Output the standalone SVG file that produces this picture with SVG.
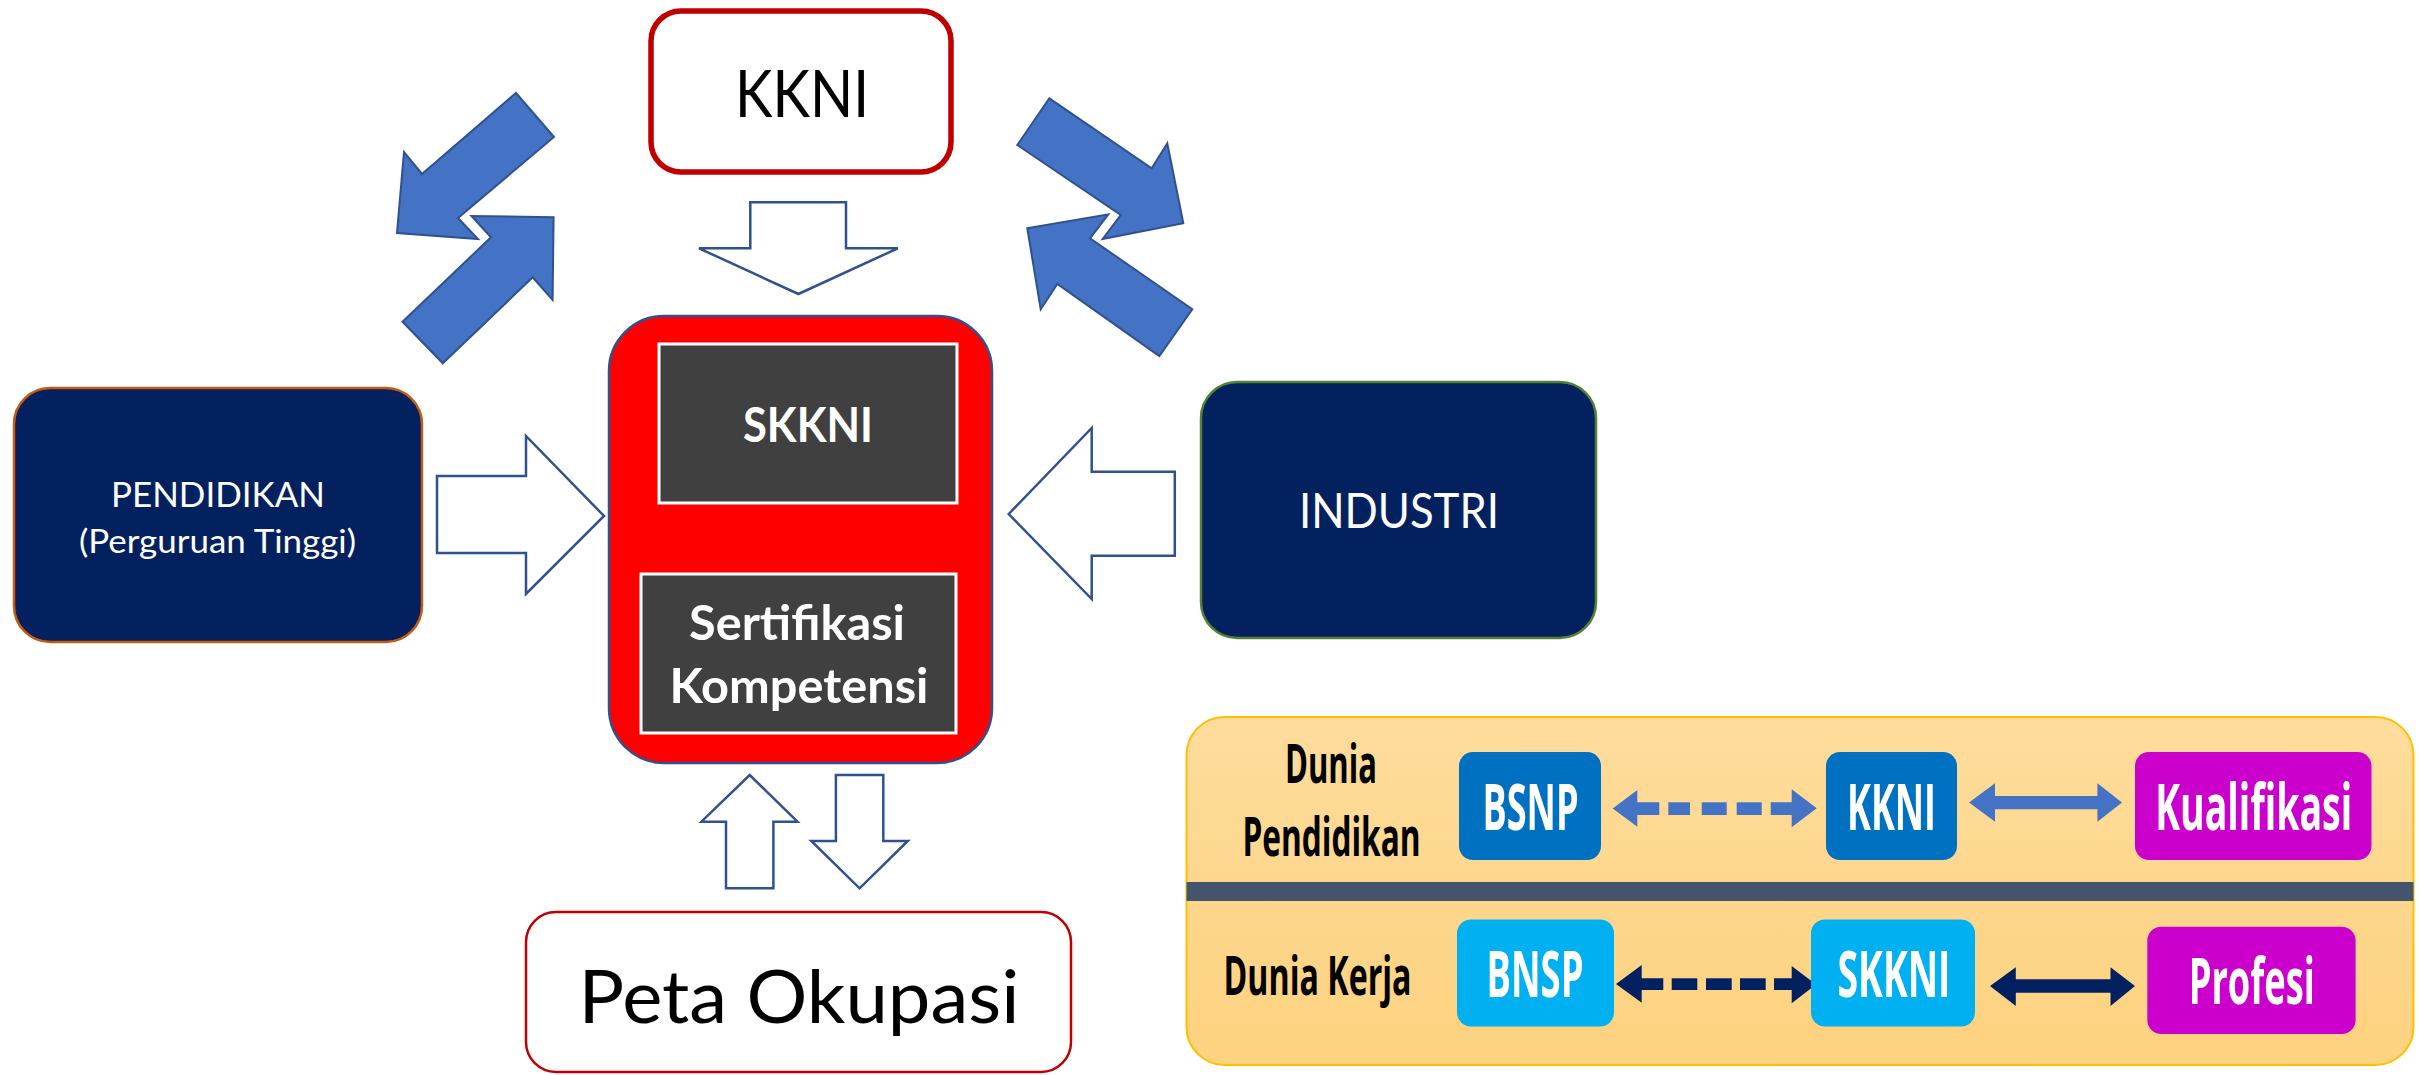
<svg xmlns="http://www.w3.org/2000/svg" width="2420" height="1075" viewBox="0 0 2420 1075">
<defs>
<linearGradient id="panelGrad" x1="0" y1="0" x2="0" y2="1">
<stop offset="0" stop-color="#FEDC9C"/>
<stop offset="1" stop-color="#FDD27F"/>
</linearGradient>
</defs>
<style>
.t{font-family:Lato,"Open Sans","Liberation Sans",sans-serif;text-anchor:middle}
.b{font-weight:bold}
.w{fill:#FFFFFF}
.k{fill:#000000}
.outline{fill:#FFFFFF;stroke:#2F528F;stroke-width:2.5;stroke-linejoin:miter}
.blue{fill:#4472C4;stroke:#2F528F;stroke-width:2;stroke-linejoin:miter}
.pt{font-family:"Open Sans",Lato,"Liberation Sans",sans-serif;font-weight:bold;text-anchor:middle}
</style>
<rect width="2420" height="1075" fill="#FFFFFF"/>

<g id="connectors">
<polygon class="blue" points="516,93 554,137 458,218 478,239 397,233 404,152 422,174"/>
<polygon class="blue" points="402.5,321.7 491,237.3 471.5,216 553.6,217.3 552.6,300 532.7,277.3 442.8,363.3"/>
<polygon class="blue" points="1049.3,98.3 1151.7,168.3 1167.3,143.3 1183.3,223.3 1102.7,239 1120.7,215 1017.3,145"/>
<polygon class="blue" points="1027.3,228.3 1108.3,214.3 1090,238.3 1192.3,309.3 1159.3,356 1057.3,284 1040.7,309.3"/>
<polygon class="outline" points="750.3,202.3 846,202.3 846,248.3 897.8,248.3 798.4,294 699,248.3 750.3,248.3"/>
<polygon class="outline" points="437,476 526,476 526,436 604,516 526,594 526,553 437,553"/>
<polygon class="outline" points="1008.7,514 1091.7,428 1091.7,471.7 1174.8,471.7 1174.8,555.7 1091.7,555.7 1091.7,599"/>
<polygon class="outline" points="749.7,775 797.5,821.7 773.4,821.7 773.4,888.3 726,888.3 726,821.7 701.4,821.7"/>
<polygon class="outline" points="835.9,775 883.3,775 883.3,841 907.8,841 859.6,888.3 811.3,841 835.9,841"/>
</g>

<g id="node-kkni">
<rect x="651" y="11" width="300" height="161" rx="30" ry="30" fill="#FFFFFF" stroke="#C00000" stroke-width="5.5"/>
<text class="t k" x="802" y="117" font-size="66" textLength="134" lengthAdjust="spacingAndGlyphs">KKNI</text>
</g>

<g id="node-center">
<rect x="609" y="316" width="383" height="447" rx="55" ry="55" fill="#FF0000" stroke="#2F528F" stroke-width="2.5"/>
<rect x="659" y="344" width="298" height="159" fill="#404040" stroke="#FFFFFF" stroke-width="3"/>
<text class="t b w" x="808" y="442" font-size="48" textLength="130" lengthAdjust="spacingAndGlyphs">SKKNI</text>
<rect x="641" y="574" width="315" height="159" fill="#404040" stroke="#FFFFFF" stroke-width="3"/>
<text class="t b w" x="797" y="640" font-size="48" textLength="216" lengthAdjust="spacingAndGlyphs">Sertifikasi</text>
<text class="t b w" x="799" y="703" font-size="48" textLength="259" lengthAdjust="spacingAndGlyphs">Kompetensi</text>
</g>

<g id="node-pendidikan">
<rect x="14" y="388" width="408" height="254" rx="36" ry="36" fill="#03215F" stroke="#C55A11" stroke-width="2.5"/>
<text class="t w" x="218" y="507" font-size="35" textLength="214" lengthAdjust="spacingAndGlyphs">PENDIDIKAN</text>
<text class="t w" x="217.5" y="553" font-size="33" textLength="277" lengthAdjust="spacingAndGlyphs">(Perguruan Tinggi)</text>
</g>

<g id="node-industri">
<rect x="1201" y="382" width="395" height="256" rx="36" ry="36" fill="#03215F" stroke="#548235" stroke-width="2.5"/>
<text class="t w" x="1399" y="528" font-size="47.5" textLength="200" lengthAdjust="spacingAndGlyphs">INDUSTRI</text>
</g>

<g id="node-peta">
<rect x="526" y="912" width="545" height="160" rx="30" ry="30" fill="#FFFFFF" stroke="#C00000" stroke-width="2.5"/>
<text class="t k" x="799" y="1023" font-size="74" textLength="441" lengthAdjust="spacingAndGlyphs">Peta Okupasi</text>
</g>

<g id="panel">
<rect x="1186.5" y="717" width="1227" height="348" rx="38" ry="38" fill="url(#panelGrad)" stroke="#FFC000" stroke-width="2"/>
<rect x="1186.5" y="882" width="1227" height="19" fill="#44546A"/>
<text class="pt k" transform="scale(0.59,1)" x="2255.9" y="783.3" font-size="53" textLength="155.9" lengthAdjust="spacingAndGlyphs">Dunia</text>
<text class="pt k" transform="scale(0.59,1)" x="2256.8" y="856" font-size="53" textLength="301.7" lengthAdjust="spacingAndGlyphs">Pendidikan</text>
<text class="pt k" transform="scale(0.59,1)" x="2233.1" y="995" font-size="53" textLength="318.6" lengthAdjust="spacingAndGlyphs">Dunia Kerja</text>
</g>

<g id="panel-connectors">
<polygon fill="#4472C4" points="1612.7,808.5 1637.3,790 1637.3,802.3 1659.3,802.3 1659.3,815 1637.3,815 1637.3,826.7"/>
<rect x="1668.3" y="802.3" width="21.7" height="12.7" fill="#4472C4"/>
<rect x="1701.7" y="802.3" width="25" height="12.7" fill="#4472C4"/>
<rect x="1736.7" y="802.3" width="25" height="12.7" fill="#4472C4"/>
<polygon fill="#4472C4" points="1770.7,802.3 1791.7,802.3 1791.7,789.3 1816.7,808.3 1791.7,827.3 1791.7,815 1770.7,815"/>
<polygon fill="#4472C4" points="1969,802.5 1995,783.3 1995,796 2097.4,796 2097.4,783.3 2122,802.5 2097.4,821.7 2097.4,809.3 1995,809.3 1995,821.7"/>
<polygon fill="#002060" points="1616,984 1641.7,965 1641.7,978.3 1663.3,978.3 1663.3,990 1641.7,990 1641.7,1002.7"/>
<rect x="1671.7" y="978.3" width="25.6" height="11.7" fill="#002060"/>
<rect x="1706" y="978.3" width="25.7" height="11.7" fill="#002060"/>
<rect x="1740" y="978.3" width="25.7" height="11.7" fill="#002060"/>
<polygon fill="#002060" points="1774,978.3 1791.7,978.3 1791.7,966 1816,984.5 1791.7,1003.3 1791.7,990 1774,990"/>
<polygon fill="#002060" points="1990,986 2015.8,967.3 2015.8,979.3 2110.5,979.3 2110.5,967.3 2135,986 2110.5,1006 2110.5,992.7 2015.8,992.7 2015.8,1006"/>
</g>

<g id="node-bsnp">
<rect x="1459" y="752" width="142" height="108" rx="14" ry="14" fill="#0070C0"/>
<text class="pt w" transform="scale(0.59,1)" x="2594.1" y="830" font-size="64" textLength="162.7" lengthAdjust="spacingAndGlyphs">BSNP</text>
</g>
<g id="node-kkni-panel">
<rect x="1826" y="752" width="131" height="108" rx="14" ry="14" fill="#0070C0"/>
<text class="pt w" transform="scale(0.59,1)" x="3205.9" y="830" font-size="64" textLength="150.8" lengthAdjust="spacingAndGlyphs">KKNI</text>
</g>
<g id="node-kualifikasi">
<rect x="2135" y="752" width="236.5" height="108" rx="14" ry="14" fill="#CC00CC"/>
<text class="pt w" transform="scale(0.59,1)" x="3819.8" y="830" font-size="64" textLength="333.9" lengthAdjust="spacingAndGlyphs">Kualifikasi</text>
</g>
<g id="node-bnsp">
<rect x="1457" y="919.5" width="157" height="107" rx="14" ry="14" fill="#00B0F0"/>
<text class="pt w" transform="scale(0.59,1)" x="2601.7" y="996.7" font-size="64" textLength="164.4" lengthAdjust="spacingAndGlyphs">BNSP</text>
</g>
<g id="node-skkni-panel">
<rect x="1811" y="919.5" width="164" height="107" rx="14" ry="14" fill="#00B0F0"/>
<text class="pt w" transform="scale(0.59,1)" x="3210.2" y="996.7" font-size="64" textLength="191.5" lengthAdjust="spacingAndGlyphs">SKKNI</text>
</g>
<g id="node-profesi">
<rect x="2147.3" y="926.7" width="208.3" height="107.3" rx="14" ry="14" fill="#CC00CC"/>
<text class="pt w" transform="scale(0.59,1)" x="3816.4" y="1004" font-size="64" textLength="213.6" lengthAdjust="spacingAndGlyphs">Profesi</text>
</g>
</svg>
